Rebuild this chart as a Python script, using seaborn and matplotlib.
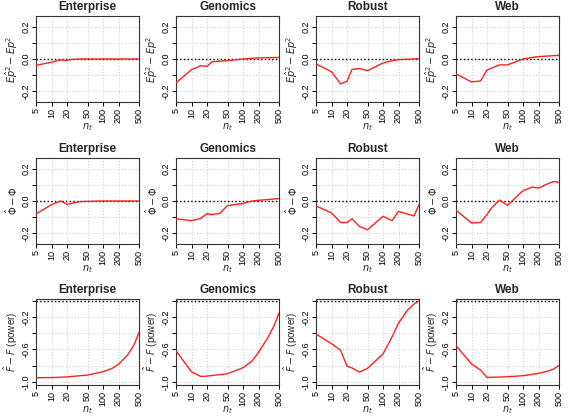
import numpy as np
import pandas as pd
import matplotlib
matplotlib.use("Agg")
import matplotlib.pyplot as plt
import seaborn as sns

# ---- data ---------------------------------------------------------------
datasets = ["Enterprise", "Genomics", "Robust", "Web"]

# row 1: Ep^2 hat - Ep^2
nt_ep = {
    "Enterprise": [5, 10, 15, 20, 25, 35, 50, 100, 200, 500],
    "Genomics":   [5, 10, 15, 20, 25, 50, 100, 200, 500],
    "Robust":     [5, 10, 15, 20, 25, 35, 50, 100, 150, 200, 500],
    "Web":        [5, 10, 15, 20, 35, 50, 100, 150, 200, 500],
}
ep_err = {
    "Enterprise": [-0.040, -0.020, -0.005, -0.008, -0.002, 0.0, 0.0, 0.0, 0.0, 0.0],
    "Genomics":   [-0.150, -0.067, -0.042, -0.046, -0.017, -0.010, 0.0, 0.007, 0.010],
    "Robust":     [-0.031, -0.080, -0.156, -0.140, -0.065, -0.060, -0.073, -0.025, -0.010, -0.004, 0.002],
    "Web":        [-0.094, -0.144, -0.138, -0.069, -0.037, -0.037, 0.0, 0.010, 0.015, 0.023],
}

# row 2: Phi hat - Phi
nt_phi = {
    "Enterprise": [5, 10, 15, 20, 35, 50, 100, 200, 500],
    "Genomics":   [5, 10, 15, 20, 25, 35, 50, 100, 150, 200, 500],
    "Robust":     [5, 10, 15, 20, 25, 35, 50, 100, 150, 200, 400, 500],
    "Web":        [5, 10, 15, 20, 25, 35, 50, 100, 150, 200, 300, 400, 500],
}
phi_err = {
    "Enterprise": [-0.081, -0.023, 0.0, -0.021, -0.004, -0.002, 0.0, 0.0, 0.0],
    "Genomics":   [-0.112, -0.123, -0.110, -0.079, -0.085, -0.079, -0.029, -0.015, 0.0, 0.004, 0.015],
    "Robust":     [-0.031, -0.075, -0.135, -0.135, -0.112, -0.160, -0.181, -0.096, -0.123, -0.065, -0.094, -0.023],
    "Web":        [-0.058, -0.138, -0.135, -0.085, -0.040, 0.006, -0.027, 0.065, 0.087, 0.081, 0.108, 0.123, 0.117],
}

# row 3: F hat - F (power)
nt_pow = {
    "Enterprise": [5, 10, 20, 50, 100, 150, 200, 300, 400, 500],
    "Genomics":   [5, 10, 15, 20, 50, 100, 150, 200, 300, 400, 500],
    "Robust":     [5, 10, 15, 20, 25, 35, 50, 100, 150, 200, 300, 400, 500],
    "Web":        [5, 10, 15, 20, 50, 100, 200, 300, 400, 500],
}
pow_err = {
    "Enterprise": [-0.950, -0.948, -0.940, -0.917, -0.875, -0.834, -0.784, -0.668, -0.543, -0.390],
    "Genomics":   [-0.618, -0.876, -0.934, -0.930, -0.900, -0.826, -0.743, -0.635, -0.460, -0.307, -0.150],
    "Robust":     [-0.410, -0.528, -0.610, -0.805, -0.830, -0.880, -0.834, -0.656, -0.444, -0.274, -0.112, -0.037, 0.0],
    "Web":        [-0.552, -0.780, -0.855, -0.946, -0.938, -0.925, -0.896, -0.870, -0.840, -0.797],
}

x_ticks = [5, 10, 20, 50, 100, 200, 500]

rows = [
    (nt_ep, ep_err, r"$E\hat{p}^2 - Ep^2$", (-0.27, 0.27), [-0.2, -0.1, 0.0, 0.1, 0.2], ["-0.2", "", "0.0", "", "0.2"]),
    (nt_phi, phi_err, r"$\hat{\Phi} - \Phi$", (-0.27, 0.27), [-0.2, -0.1, 0.0, 0.1, 0.2], ["-0.2", "", "0.0", "", "0.2"]),
    (nt_pow, pow_err, r"$\hat{F} - F$ (power)", (-1.04, 0.025), [-1.0, -0.8, -0.6, -0.4, -0.2, 0.0], ["-1.0", "", "-0.6", "", "-0.2", ""]),
]

sns.set_theme(style="white")
plt.rcParams["font.family"] = ["Liberation Sans", "DejaVu Sans"]
plt.rcParams["mathtext.fontset"] = "dejavusans"

W, H = 568, 418
fig = plt.figure(figsize=(W / 100, H / 100), dpi=100)

col_left = [36, 176, 316, 456]
row_top = [16, 158, 299]
aw, ah = 103, 86

for r, (nts, vals, ylab, ylim, yt, ytl) in enumerate(rows):
    for c, name in enumerate(datasets):
        ax = fig.add_axes([col_left[c] / W, 1 - (row_top[r] + ah) / H, aw / W, ah / H])
        df = pd.DataFrame({"nt": nts[name], "err": vals[name]})
        ax.set_xscale("log")
        ax.grid(True, color="#d3d3d3", linestyle=":", linewidth=0.8)
        ax.axhline(0, color="black", linestyle=":", linewidth=1.0, zorder=2)
        sns.lineplot(data=df, x="nt", y="err", ax=ax, color="#ff2020", linewidth=1.0, zorder=3)
        ax.set_xlim(5, 500)
        ax.set_ylim(*ylim)
        ax.set_xticks(x_ticks)
        ax.set_xticklabels([str(t) for t in x_ticks], rotation=90, fontsize=6.5)
        ax.xaxis.set_minor_locator(matplotlib.ticker.NullLocator())
        ax.set_yticks(yt)
        ax.set_yticklabels(ytl, rotation=90, va="center", fontsize=6.5)
        ax.tick_params(length=3, width=0.7, pad=1, direction="out", bottom=True, left=True,
                       colors="black")
        for s in ax.spines.values():
            s.set_color("#333333")
            s.set_linewidth(0.8)
        ax.set_xlabel(r"$n_t$", fontsize=7, labelpad=-1)
        ax.set_ylabel(ylab, fontsize=7, labelpad=1)
        ax.set_title(name, fontsize=8.5, fontweight="bold", pad=4)

fig.savefig("out.png", dpi=100)
